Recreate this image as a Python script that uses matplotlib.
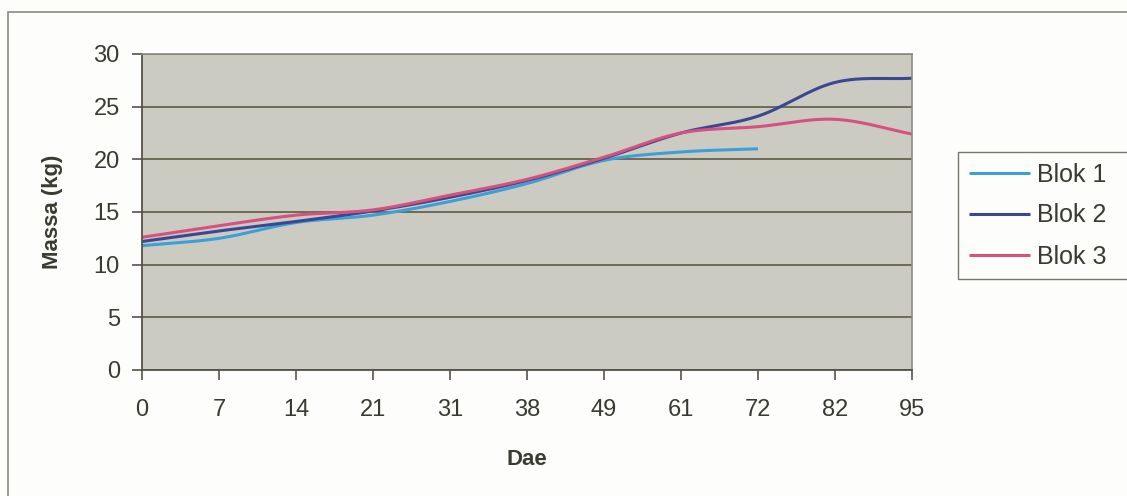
import numpy as np
import matplotlib
matplotlib.use("Agg")
import matplotlib.pyplot as plt
from matplotlib.patches import Rectangle

plt.rcParams['font.family'] = ['Liberation Sans', 'DejaVu Sans']

days = ["0", "7", "14", "21", "31", "38", "49", "61", "72", "82", "95"]
blok1 = [11.8, 12.5, 14.0, 14.7, 16.0, 17.7, 19.9, 20.7, 21.0]
blok2 = [12.2, 13.2, 14.1, 15.1, 16.4, 18.0, 20.1, 22.5, 24.1, 27.3, 27.7]
blok3 = [12.6, 13.7, 14.7, 15.2, 16.6, 18.1, 20.2, 22.5, 23.1, 23.8, 22.4]

series = [("Blok 1", blok1, "#3d9fd6"),
          ("Blok 2", blok2, "#3b4790"),
          ("Blok 3", blok3, "#d6517f")]


def smooth(xs, ys, n=30):
    """Catmull-Rom curve through the given points."""
    xs = np.asarray(xs, float)
    ys = np.asarray(ys, float)
    px = np.concatenate([[2 * xs[0] - xs[1]], xs, [2 * xs[-1] - xs[-2]]])
    py = np.concatenate([[2 * ys[0] - ys[1]], ys, [2 * ys[-1] - ys[-2]]])
    out_x, out_y = [], []
    t = np.linspace(0, 1, n, endpoint=False)
    for i in range(1, len(px) - 2):
        for arr, out in ((px, out_x), (py, out_y)):
            p0, p1, p2, p3 = arr[i - 1], arr[i], arr[i + 1], arr[i + 2]
            out.extend(0.5 * ((2 * p1) + (-p0 + p2) * t
                              + (2 * p0 - 5 * p1 + 4 * p2 - p3) * t ** 2
                              + (-p0 + 3 * p1 - 3 * p2 + p3) * t ** 3))
    out_x.append(xs[-1])
    out_y.append(ys[-1])
    return np.array(out_x), np.array(out_y)


fig = plt.figure(figsize=(11.27, 4.96), dpi=100)
fig.patch.set_facecolor("#fdfdfb")
ax = fig.add_axes([142 / 1127, 1 - 370 / 496, 770 / 1127, 316 / 496])
ax.set_facecolor("#cccbc2")

for label, vals, color in series:
    sx, sy = smooth(range(len(vals)), vals)
    ax.plot(sx, sy, color=color, lw=2.2, label=label, solid_capstyle="butt")

ax.set_xlim(0, len(days) - 1)
ax.set_ylim(0, 30)
ax.set_xticks(range(len(days)))
ax.set_xticklabels(days)
ax.set_yticks(range(0, 31, 5))
ax.yaxis.grid(True, color="#6d6a58", lw=1.4)
ax.set_axisbelow(True)
ax.tick_params(axis="both", direction="out", length=7, width=1.2,
               color="#55534a", labelsize=17, labelcolor="#3a3a33")
ax.tick_params(axis="x", pad=14)
ax.tick_params(axis="y", pad=9)
for side in ("left", "bottom"):
    ax.spines[side].set_color("#55534a")
    ax.spines[side].set_linewidth(1.3)
for side in ("top", "right"):
    ax.spines[side].set_color("#8e8c80")
    ax.spines[side].set_linewidth(1.2)

ax.set_xlabel("Dae", fontsize=16, fontweight="bold", color="#3a3a33", labelpad=20)
ax.set_ylabel("Massa (kg)", fontsize=16, fontweight="bold", color="#3a3a33", labelpad=22)

leg = fig.legend(loc="upper left",
                 bbox_to_anchor=(958 / 1127, 1 - 152 / 496, 185 / 1127, 0),
                 mode="expand",
                 fontsize=18, frameon=True, fancybox=False, handlelength=2.45,
                 handletextpad=0.3, labelspacing=0.68, borderpad=0.42,
                 borderaxespad=0)
leg.get_frame().set_edgecolor("#55534a")
leg.get_frame().set_linewidth(1.0)
leg.get_frame().set_facecolor("#fdfdfb")
for t in leg.get_texts():
    t.set_color("#3a3a33")

# outer chart border
fig.patches.append(Rectangle((8 / 1127, -0.1), 1.2, 1 - 12 / 496 + 0.1,
                             transform=fig.transFigure, fill=False,
                             edgecolor="#8a8a82", lw=1.2, clip_on=False))

fig.savefig("out.png", dpi=100, facecolor=fig.get_facecolor())
